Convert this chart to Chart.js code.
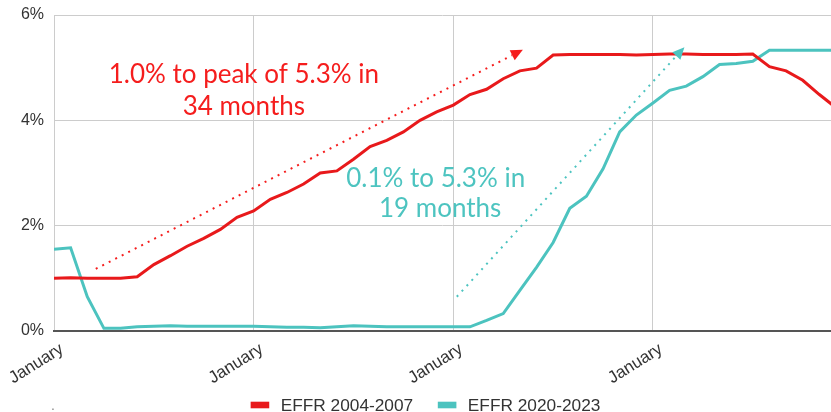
<!DOCTYPE html>
<html>
<head>
<meta charset="utf-8">
<script src="https://cdn.jsdelivr.net/npm/chart.js@4.4.0/dist/chart.umd.min.js"></script>
<style>
    html, body { margin: 0; padding: 0; background: #fff; overflow: hidden; }
    #wrap { width: 831px; height: 412px; position: relative; }
</style>
</head>
<body>
<div id="wrap"><canvas id="effrChart"></canvas></div>
<script>
// month names, one cycle - each series runs 4 years from January
const monthLabels = ['January', 'February', 'March', 'April', 'May', 'June',
    'July', 'August', 'September', 'October', 'November', 'December'];

// effective fed funds rate, monthly, %
const effr2004 = [
    1.00, 1.01, 1.00, 1.00, 1.00, 1.03, 1.26, 1.43, 1.61, 1.76, 1.93, 2.16,
    2.28, 2.50, 2.63, 2.79, 3.00, 3.04, 3.26, 3.50, 3.62, 3.78, 4.00, 4.16,
    4.29, 4.49, 4.59, 4.79, 4.94, 4.99, 5.24, 5.25, 5.25, 5.25, 5.25, 5.24,
    5.25, 5.26, 5.26, 5.25, 5.25, 5.25, 5.26, 5.02, 4.94, 4.76, 4.49, 4.24
];
const effr2020 = [
    1.55, 1.58, 0.65, 0.05, 0.05, 0.08, 0.09, 0.10, 0.09, 0.09, 0.09, 0.09,
    0.09, 0.08, 0.07, 0.07, 0.06, 0.08, 0.10, 0.09, 0.08, 0.08, 0.08, 0.08,
    0.08, 0.08, 0.20, 0.33, 0.77, 1.21, 1.68, 2.33, 2.56, 3.08, 3.78, 4.10,
    4.33, 4.57, 4.65, 4.83, 5.06, 5.08, 5.12, 5.33, 5.33, 5.33, 5.33, 5.33
];
const seriesNames = ['EFFR 2004-2007', 'EFFR 2020-2023'];
const yTicks = [0, 2, 4, 6];

// the original picture is cut off part way through the last year
const lastMonthShown = 46.7;

const RED = '#e8191b';
const TEAL = '#4cc3bf';

// text + arrows laid on top of the chart, in data units (month index, %)
const notes = [
    { text: '1.0% to peak of 5.3% in', x: 11.41, y: 4.71, color: '#f51d1d' },
    { text: '34 months', x: 11.41, y: 4.11, color: '#f51d1d' },
    { text: '0.1% to 5.3% in', x: 22.94, y: 2.74, color: '#4dc4c0' },
    { text: '19 months', x: 23.21, y: 2.17, color: '#4dc4c0' }
];
const arrows = [
    { from: [2.51, 1.18], to: [28.18, 5.34], color: '#f51d1d' },
    { from: [24.21, 0.65], to: [37.89, 5.39], color: '#4dc4c0' }
];

const toPoints = arr => arr.map((v, i) => ({ x: i, y: v }));
const januaryIdx = effr2004.map((v, i) => i).filter(i => i % 12 === 0);
const axisFont = '"Liberation Sans", Arial, sans-serif';

const notesPlugin = {
    id: 'notes',
    afterDatasetsDraw(chart) {
        const { ctx, scales: { x, y } } = chart;
        ctx.save();
        arrows.forEach(a => {
            const x1 = x.getPixelForValue(a.from[0]), y1 = y.getPixelForValue(a.from[1]);
            const x2 = x.getPixelForValue(a.to[0]), y2 = y.getPixelForValue(a.to[1]);
            const ang = Math.atan2(y2 - y1, x2 - x1);
            const headLen = 12, headHalf = 5.5;
            const bx = x2 - headLen * Math.cos(ang), by = y2 - headLen * Math.sin(ang);
            ctx.strokeStyle = a.color;
            ctx.lineWidth = 2;
            ctx.setLineDash([2, 5.3]);
            ctx.beginPath();
            ctx.moveTo(x1, y1);
            ctx.lineTo(bx, by);
            ctx.stroke();
            ctx.setLineDash([]);
            ctx.fillStyle = a.color;
            ctx.beginPath();
            ctx.moveTo(x2, y2);
            ctx.lineTo(bx + headHalf * Math.sin(ang), by - headHalf * Math.cos(ang));
            ctx.lineTo(bx - headHalf * Math.sin(ang), by + headHalf * Math.cos(ang));
            ctx.closePath();
            ctx.fill();
        });
        ctx.font = '26px Lato, "Open Sans", sans-serif';
        ctx.textAlign = 'center';
        ctx.textBaseline = 'alphabetic';
        notes.forEach(n => {
            ctx.fillStyle = n.color;
            ctx.fillText(n.text, x.getPixelForValue(n.x), y.getPixelForValue(n.y));
        });
        ctx.restore();
    },
    // legend drawn by hand so it can sit close under the rotated month labels
    afterDraw(chart) {
        const ctx = chart.ctx;
        const sets = chart.data.datasets;
        ctx.save();
        ctx.font = '17.3px ' + axisFont;
        ctx.textBaseline = 'alphabetic';
        ctx.textAlign = 'left';
        const boxW = 18.6, boxH = 6.6, gap = 11.4, itemGap = 24.6;
        const widths = sets.map(ds => ctx.measureText(ds.label).width);
        const total = widths.reduce((s, w) => s + boxW + gap + w, 0) + itemGap * (sets.length - 1);
        let cx = 425.5 - total / 2;
        sets.forEach((ds, i) => {
            ctx.fillStyle = ds.borderColor;
            ctx.fillRect(cx, 401.7, boxW, boxH);
            ctx.fillStyle = '#333';
            ctx.fillText(ds.label, cx + boxW + gap, 411);
            cx += boxW + gap + widths[i] + itemGap;
        });
        // stray dot in the bottom left of the original
        ctx.fillStyle = '#888';
        ctx.font = '14px ' + axisFont;
        ctx.fillText('.', 51, 410);
        ctx.restore();
    }
};

const ctx = document.getElementById('effrChart').getContext('2d');
new Chart(ctx, {
    type: 'line',
    data: {
        datasets: [
            {
                label: seriesNames[0],
                data: toPoints(effr2004),
                borderColor: RED,
                backgroundColor: RED,
                borderWidth: 3,
                pointRadius: 0,
                tension: 0,
                clip: 0
            },
            {
                label: seriesNames[1],
                data: toPoints(effr2020),
                borderColor: TEAL,
                backgroundColor: TEAL,
                borderWidth: 3,
                pointRadius: 0,
                tension: 0,
                clip: 0
            }
        ]
    },
    options: {
        responsive: true,
        maintainAspectRatio: false,
        animation: false,
        layout: { padding: { top: 15, right: 0, left: 0, bottom: 0 } },
        plugins: {
            tooltip: { enabled: false },
            legend: { display: false }
        },
        scales: {
            x: {
                type: 'linear',
                min: 0,
                max: lastMonthShown,
                afterBuildTicks: s => { s.ticks = januaryIdx.map(v => ({ value: v })); },
                afterFit: s => { s.height = 81; s.paddingLeft = 0; s.paddingRight = 0; },
                ticks: {
                    autoSkip: false,
                    minRotation: 32,
                    maxRotation: 32,
                    padding: 8,
                    labelOffset: 8,
                    color: '#333',
                    font: { family: axisFont, size: 17 },
                    callback: v => monthLabels[v % 12]
                },
                grid: { color: '#cccccc', lineWidth: 1, drawTicks: false },
                border: { color: '#555', width: 2 }
            },
            y: {
                min: yTicks[0],
                max: yTicks[yTicks.length - 1],
                afterBuildTicks: s => { s.ticks = yTicks.map(v => ({ value: v })); },
                afterFit: s => { s.width = 54; },
                ticks: {
                    padding: 3,
                    color: '#333',
                    font: { family: axisFont, size: 16 },
                    callback: v => v + '%'
                },
                grid: { color: '#cccccc', lineWidth: 1, drawTicks: true, tickLength: 7, tickColor: 'rgba(0,0,0,0)' },
                border: { display: false }
            }
        }
    },
    plugins: [notesPlugin]
});
</script>
</body>
</html>
